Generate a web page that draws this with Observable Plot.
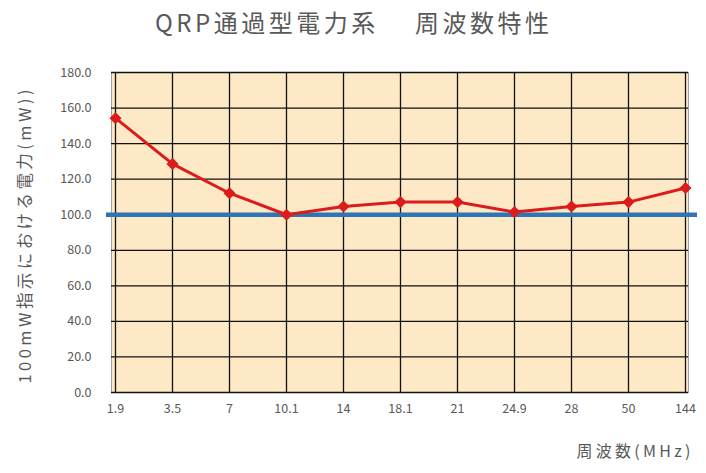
<!DOCTYPE html>
<html><head><meta charset="utf-8">
<script src="https://cdn.jsdelivr.net/npm/d3@7"></script>
<script src="https://cdn.jsdelivr.net/npm/@observablehq/plot@0.6"></script>
<style>
body{margin:0;background:#fff;}
svg{display:block;}
</style>
</head><body>
<div id="chart"></div>
<script>
const title = "QRP通過型電力系　 周波数特性";
const yLabel = "100mW指示における電力(mW))";
const xLabel = "周波数(MHz)";
const freqs = ["1.9","3.5","7","10.1","14","18.1","21","24.9","28","50","144"];
const power = [154.3,128.6,112.1,100.0,104.6,107.1,107.1,101.5,104.6,107.1,115.0];
const reference = [100];
const yTicks = [0,20,40,60,80,100,120,140,160,180];

const data = freqs.map((f,i)=>({f, p: power[i]}));
const font = "'Noto Sans CJK JP', 'Noto Sans', sans-serif";

const chart = Plot.plot({
  width: 706, height: 473,
  marginTop: 72, marginBottom: 81, marginLeft: 111, marginRight: 18,
  style: {fontFamily: font, fontSize: "12px", color: "#595959", background: "#fff"},
  x: {type: "point", domain: freqs, padding: 0},
  y: {domain: [0,180]},
  marks: [
    Plot.frame({fill: "#fde9c6", stroke: "#a0a0a0"}),
    Plot.gridY(yTicks, {stroke: "#111", strokeOpacity: 1, strokeWidth: 1.3}),
    Plot.gridX(freqs, {stroke: "#111", strokeOpacity: 1, strokeWidth: 1.3}),
    Plot.axisY(yTicks, {tickSize: 0, tickPadding: 20, tickFormat: d => d.toFixed(1), label: null, fill: "#595959", fontSize: 12.5}),
    Plot.axisX(freqs, {tickSize: 0, tickPadding: 12, label: null, fill: "#595959", fontSize: 12.5}),
    Plot.ruleY(reference, {stroke: "#2e75b6", strokeWidth: 4.5, insetLeft: -5, insetRight: -9}),
    Plot.line(data, {x: "f", y: "p", stroke: "#dc1c1c", strokeWidth: 3}),
    Plot.dot(data, {x: "f", y: "p", symbol: "diamond2", r: 4.5, fill: "#dc1c1c", stroke: "#dc1c1c"}),
    Plot.text([title], {className: "ttl", frameAnchor: "top", dx: -48, dy: -58, fontSize: 24, fill: "#595959", fontFamily: font}),
    Plot.text([yLabel], {className: "ylab", frameAnchor: "left", textAnchor: "middle", rotate: -90, dx: -86, dy: 4, fontSize: 16.5, fill: "#595959", fontFamily: font}),
    Plot.text([xLabel], {className: "xlab", frameAnchor: "bottom-right", textAnchor: "end", dx: 2, dy: 64, fontSize: 16, fill: "#595959", fontFamily: font})
  ]
});
// stretch the text spacing to the reference's widths
const fit = (cls, len) => d3.select(chart).selectAll("g." + cls + " text")
  .attr("textLength", len).attr("lengthAdjust", "spacing");
fit("ttl", 394);
fit("ylab", 294);
fit("xlab", 114);
document.getElementById("chart").appendChild(chart);
</script>
</body></html>
